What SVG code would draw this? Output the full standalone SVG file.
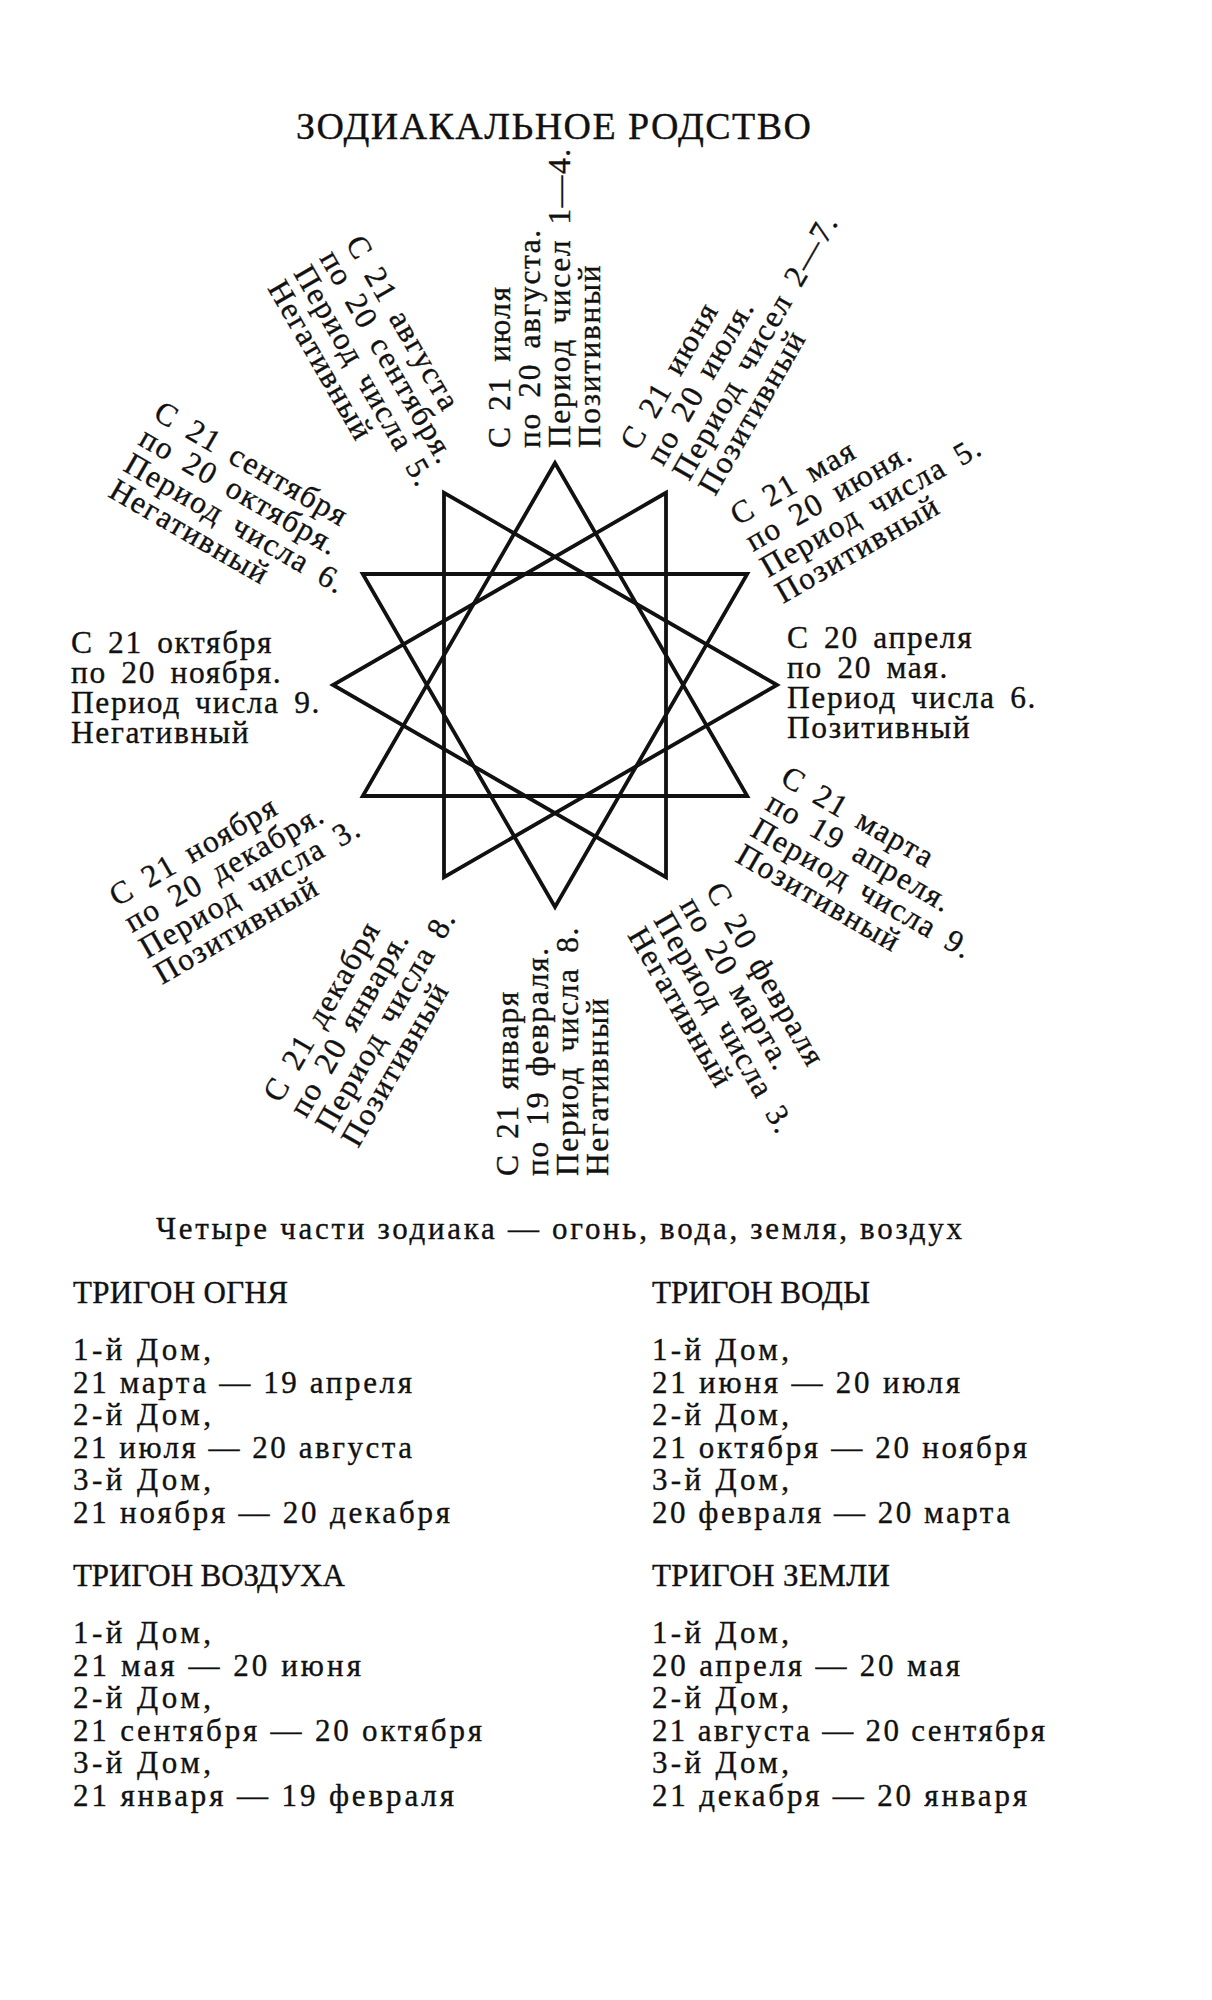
<svg xmlns="http://www.w3.org/2000/svg" width="1212" height="2000" viewBox="0 0 1212 2000">
<style>
text{font-family:"Liberation Serif","Times New Roman",serif;fill:#111;stroke:#111;stroke-width:0.35px}
.lb{font-size:31.5px;letter-spacing:1.6px;word-spacing:5px}
.bt{font-size:31px}
.star{fill:none;stroke:#111;stroke-width:3.8;stroke-linejoin:miter}
</style>
<rect width="1212" height="2000" fill="#fff"/>
<text id="title" x="296" y="139" font-size="38" textLength="515" lengthAdjust="spacing">ЗОДИАКАЛЬНОЕ РОДСТВО</text>
<g id="star">
<polygon class="star" points="555,463 362.74,796 747.26,796"/>
<polygon class="star" points="777,685 444,492.74 444,877.26"/>
<polygon class="star" points="747.26,574 362.74,574 555,907"/>
<polygon class="star" points="666,492.74 333,685 666,877.26"/>
</g>
<g id="label-apr" class="lb" transform="translate(787,648)"><text x="0" y="0">С 20 апреля</text><text x="0" y="30">по 20 мая.</text><text x="0" y="60">Период числа 6.</text><text x="0" y="90">Позитивный</text></g>
<g id="label-may" class="lb" transform="translate(738,526) rotate(-30)"><text x="0" y="0">С 21 мая</text><text x="0" y="30">по 20 июня.</text><text x="0" y="60">Период числа 5.</text><text x="0" y="90">Позитивный</text></g>
<g id="label-jun" class="lb" transform="translate(637,452) rotate(-60)"><text x="0" y="0">С 21 июня</text><text x="0" y="30">по 20 июля.</text><text x="0" y="60">Период чисел 2—7.</text><text x="0" y="90">Позитивный</text></g>
<g id="label-jul" class="lb" transform="translate(510,448) rotate(-90)"><text x="0" y="0">С 21 июля</text><text x="0" y="30">по 20 августа.</text><text x="0" y="60">Период чисел 1—4.</text><text x="0" y="90">Позитивный</text></g>
<g id="label-aug" class="lb" transform="translate(345,243) rotate(60)"><text x="0" y="0">С 21 августа</text><text x="0" y="30">по 20 сентября.</text><text x="0" y="60">Период числа 5.</text><text x="0" y="90">Негативный</text></g>
<g id="label-sep" class="lb" transform="translate(152,418) rotate(30)"><text x="0" y="0">С 21 сентября</text><text x="0" y="30">по 20 октября.</text><text x="0" y="60">Период числа 6.</text><text x="0" y="90">Негативный</text></g>
<g id="label-oct" class="lb" transform="translate(71,653)"><text x="0" y="0">С 21 октября</text><text x="0" y="30">по 20 ноября.</text><text x="0" y="60">Период числа 9.</text><text x="0" y="90">Негативный</text></g>
<g id="label-nov" class="lb" transform="translate(117,907) rotate(-30)"><text x="0" y="0">С 21 ноября</text><text x="0" y="30">по 20 декабря.</text><text x="0" y="60">Период числа 3.</text><text x="0" y="90">Позитивный</text></g>
<g id="label-dec" class="lb" transform="translate(280,1104) rotate(-60)"><text x="0" y="0">С 21 декабря</text><text x="0" y="30">по 20 января.</text><text x="0" y="60">Период числа 8.</text><text x="0" y="90">Позитивный</text></g>
<g id="label-jan" class="lb" transform="translate(518,1176) rotate(-90)"><text x="0" y="0">С 21 января</text><text x="0" y="30">по 19 февраля.</text><text x="0" y="60">Период числа 8.</text><text x="0" y="90">Негативный</text></g>
<g id="label-feb" class="lb" transform="translate(705,890) rotate(60)"><text x="0" y="0">С 20 февраля</text><text x="0" y="30">по 20 марта.</text><text x="0" y="60">Период числа 3.</text><text x="0" y="90">Негативный</text></g>
<g id="label-mar" class="lb" transform="translate(779,783) rotate(30)"><text x="0" y="0">С 21 марта</text><text x="0" y="30">по 19 апреля.</text><text x="0" y="60">Период числа 9.</text><text x="0" y="90">Позитивный</text></g>
<g id="connectors"/>
<g id="caption" class="bt">
<text x="156" y="1239" textLength="806" lengthAdjust="spacing">Четыре части зодиака — огонь, вода, земля, воздух</text>
</g>
<g id="trigon-fire" class="bt">
<text x="73" y="1303" textLength="215" lengthAdjust="spacing">ТРИГОН ОГНЯ</text>
<text x="73" y="1360" textLength="138" lengthAdjust="spacing">1-й Дом,</text>
<text x="73" y="1392.6" textLength="339" lengthAdjust="spacing">21 марта — 19 апреля</text>
<text x="73" y="1425.2" textLength="138" lengthAdjust="spacing">2-й Дом,</text>
<text x="73" y="1457.8" textLength="339" lengthAdjust="spacing">21 июля — 20 августа</text>
<text x="73" y="1490.4" textLength="138" lengthAdjust="spacing">3-й Дом,</text>
<text x="73" y="1523" textLength="377" lengthAdjust="spacing">21 ноября — 20 декабря</text>
</g>
<g id="trigon-air" class="bt">
<text x="73" y="1586" textLength="272" lengthAdjust="spacing">ТРИГОН ВОЗДУХА</text>
<text x="73" y="1643" textLength="138" lengthAdjust="spacing">1-й Дом,</text>
<text x="73" y="1675.6" textLength="288" lengthAdjust="spacing">21 мая — 20 июня</text>
<text x="73" y="1708.2" textLength="138" lengthAdjust="spacing">2-й Дом,</text>
<text x="73" y="1740.8" textLength="409" lengthAdjust="spacing">21 сентября — 20 октября</text>
<text x="73" y="1773.4" textLength="138" lengthAdjust="spacing">3-й Дом,</text>
<text x="73" y="1806" textLength="381" lengthAdjust="spacing">21 января — 19 февраля</text>
</g>
<g id="trigon-water" class="bt">
<text x="652" y="1303" textLength="218" lengthAdjust="spacing">ТРИГОН ВОДЫ</text>
<text x="652" y="1360" textLength="137" lengthAdjust="spacing">1-й Дом,</text>
<text x="652" y="1392.6" textLength="308" lengthAdjust="spacing">21 июня — 20 июля</text>
<text x="652" y="1425.2" textLength="137" lengthAdjust="spacing">2-й Дом,</text>
<text x="652" y="1457.8" textLength="375" lengthAdjust="spacing">21 октября — 20 ноября</text>
<text x="652" y="1490.4" textLength="137" lengthAdjust="spacing">3-й Дом,</text>
<text x="652" y="1523" textLength="358" lengthAdjust="spacing">20 февраля — 20 марта</text>
</g>
<g id="trigon-earth" class="bt">
<text x="652" y="1586" textLength="238" lengthAdjust="spacing">ТРИГОН ЗЕМЛИ</text>
<text x="652" y="1643" textLength="137" lengthAdjust="spacing">1-й Дом,</text>
<text x="652" y="1675.6" textLength="308" lengthAdjust="spacing">20 апреля — 20 мая</text>
<text x="652" y="1708.2" textLength="137" lengthAdjust="spacing">2-й Дом,</text>
<text x="652" y="1740.8" textLength="393" lengthAdjust="spacing">21 августа — 20 сентября</text>
<text x="652" y="1773.4" textLength="137" lengthAdjust="spacing">3-й Дом,</text>
<text x="652" y="1806" textLength="375" lengthAdjust="spacing">21 декабря — 20 января</text>
</g>
</svg>
